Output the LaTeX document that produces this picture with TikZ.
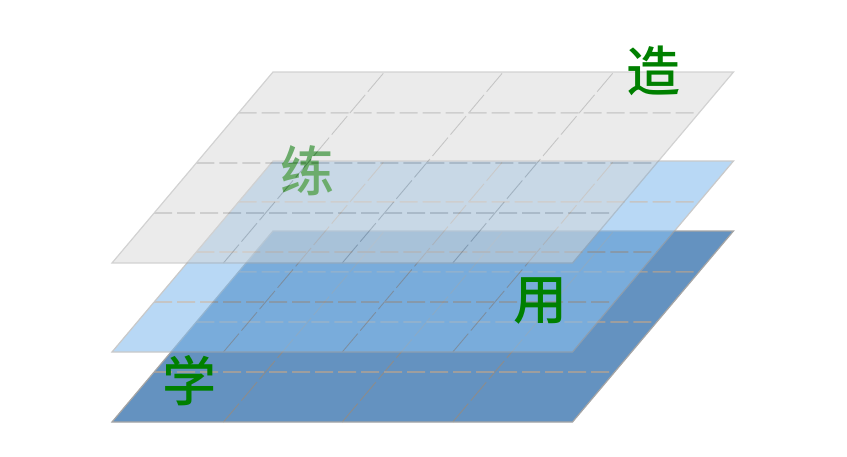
\documentclass[tikz,border=0pt]{standalone}
\usepackage{fontspec}
\newfontfamily\hanzifont{Noto Sans CJK SC Medium}
\usepackage{tikz}
\usetikzlibrary{calc}

\definecolor{deepplane}{RGB}{100,146,192}
\definecolor{skyplane}{RGB}{136,190,238}
\definecolor{mistplane}{RGB}{216,216,216}
\definecolor{hanzigreen}{RGB}{0,128,0}
\definecolor{rungcolor}{RGB}{158,158,158}
\definecolor{railcolor}{RGB}{140,140,140}
\definecolor{rimcolor}{RGB}{165,165,165}

% one slanted layer: name, base line y, fill colour, opacity
\newcommand{\planelayer}[4]{%
  \begin{scope}[opacity=#4, transparency group]
    \coordinate (#1-sw) at (112,#2);
    \coordinate (#1-se) at (572.5,#2);
    \coordinate (#1-ne) at (733.5,#2-191);
    \coordinate (#1-nw) at (273,#2-191);
    \fill[#3] (#1-sw) -- (#1-se) -- (#1-ne) -- (#1-nw) -- cycle;
    \foreach \f in {0.242,0.5,0.74}
      \draw[railline] ($(#1-sw)!\f!(#1-se)$) -- ($(#1-nw)!\f!(#1-ne)$);
    \foreach \f in {0.262,0.524,0.786}
      \draw[rungline] ($(#1-sw)!\f!(#1-nw)$) -- ($(#1-se)!\f!(#1-ne)$);
    \draw[rim] (#1-sw) -- (#1-se) -- (#1-ne) -- (#1-nw) -- cycle;
  \end{scope}
}

\begin{document}
\begin{tikzpicture}[
      x=1pt, y=-1pt,
      rungline/.style={
          draw=rungcolor, line width=1.7pt,
          dash pattern=on 18pt off 5pt
        },
      railline/.style={
          draw=railcolor, line width=0.9pt,
          dash pattern=on 24pt off 4pt
        },
      rim/.style={draw=rimcolor, line width=1.2pt},
      hanzi/.style={
          font=\hanzifont\fontsize{54}{54}\selectfont,
          text=hanzigreen, inner sep=0pt
        }
    ]
    \useasboundingbox (0,0) rectangle (847,456);

    % ── Bottom layer ──
    \planelayer{low}{422}{deepplane}{1}
    \node[hanzi] (xue) at (189,381) {学};

    % ── Middle layer ──
    \planelayer{mid}{352}{skyplane}{0.6}
    \node[hanzi] (yong) at (540,301) {用};
    \node[hanzi] (lian) at (307,171) {练};

    % ── Top layer ──
    \planelayer{top}{263}{mistplane}{0.5}
    \node[hanzi] (zao) at (653.5,71) {造};

  \end{tikzpicture}
\end{document}
